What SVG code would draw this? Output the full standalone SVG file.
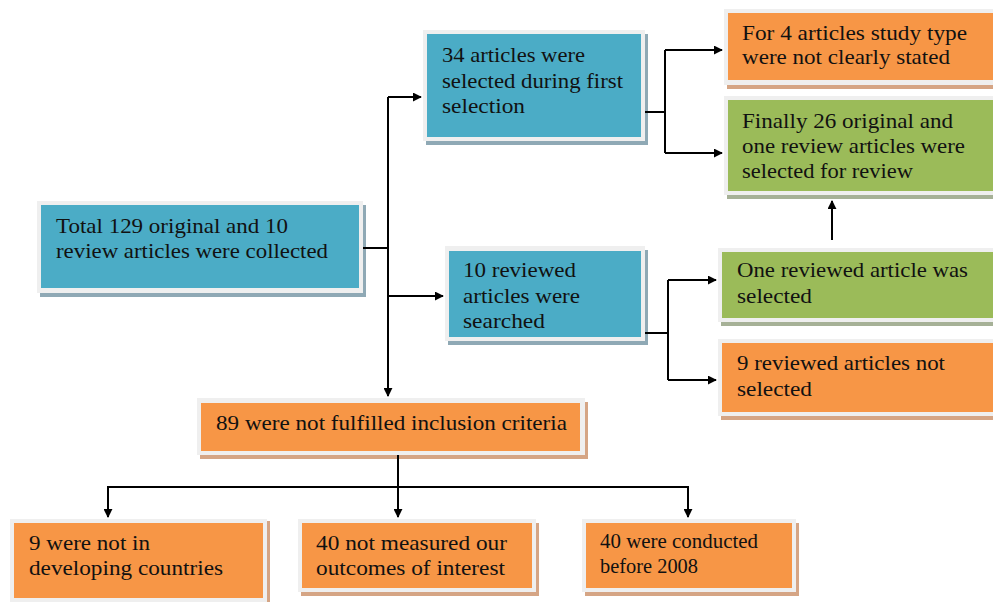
<svg xmlns="http://www.w3.org/2000/svg" width="993" height="602" viewBox="0 0 993 602">
<defs>
<marker id="ah" viewBox="0 0 10 10" refX="9" refY="5" markerWidth="4.5" markerHeight="4.5" orient="auto" markerUnits="strokeWidth">
<path d="M0,0 L10,5 L0,10 z" fill="#000"/>
</marker>
</defs>
<style>
.frame{fill:#efefef;}
.sh-b{fill:#8fa9b5;}
.sh-o{fill:#d5a585;}
.sh-g{fill:#a6b197;}
.teal{fill:#4bacc6;}
.orange{fill:#f79646;}
.green{fill:#9bbb59;}
text{font-family:"Liberation Serif","DejaVu Serif",serif;font-size:22px;fill:#111;}
.sm{font-size:20px;}
.con{fill:none;stroke:#000;stroke-width:2;}
</style>
<rect width="993" height="602" fill="#fff"/>

<g id="n1">
<rect class="sh-b" x="40" y="205" width="326" height="92"/>
<rect class="frame" x="37" y="201" width="326" height="92"/>
<rect class="teal" x="41" y="205" width="318" height="83"/>
<text x="56" y="233" textLength="232" lengthAdjust="spacingAndGlyphs">Total 129 original and 10</text>
<text x="56" y="258" textLength="272" lengthAdjust="spacingAndGlyphs">review articles were collected</text>
</g>

<g id="n2">
<rect class="sh-b" x="426" y="34" width="222" height="111"/>
<rect class="frame" x="423" y="30" width="222" height="111"/>
<rect class="teal" x="427" y="34" width="214" height="103"/>
<text x="442" y="62" textLength="143" lengthAdjust="spacingAndGlyphs">34 articles were</text>
<text x="442" y="88" textLength="181" lengthAdjust="spacingAndGlyphs">selected during first</text>
<text x="442" y="113" textLength="83" lengthAdjust="spacingAndGlyphs">selection</text>
</g>

<g id="n3">
<rect class="sh-o" x="727" y="13" width="275" height="76"/>
<rect class="frame" x="724" y="9" width="275" height="76"/>
<rect class="orange" x="728" y="13" width="270" height="67"/>
<text x="742" y="40" textLength="225" lengthAdjust="spacingAndGlyphs">For 4 articles study type</text>
<text x="742" y="64" textLength="208" lengthAdjust="spacingAndGlyphs">were not clearly stated</text>
</g>

<g id="n4">
<rect class="sh-g" x="727" y="100" width="275" height="99"/>
<rect class="frame" x="724" y="96" width="275" height="99"/>
<rect class="green" x="728" y="100" width="270" height="91"/>
<text x="742" y="128" textLength="211" lengthAdjust="spacingAndGlyphs">Finally 26 original and</text>
<text x="742" y="153" textLength="223" lengthAdjust="spacingAndGlyphs">one review articles were</text>
<text x="742" y="178" textLength="171" lengthAdjust="spacingAndGlyphs">selected for review</text>
</g>

<g id="n5">
<rect class="sh-b" x="448" y="250" width="200" height="95"/>
<rect class="frame" x="445" y="246" width="200" height="95"/>
<rect class="teal" x="449" y="251" width="192" height="86"/>
<text x="463" y="277" textLength="113" lengthAdjust="spacingAndGlyphs">10 reviewed</text>
<text x="463" y="303" textLength="117" lengthAdjust="spacingAndGlyphs">articles were</text>
<text x="463" y="328" textLength="82" lengthAdjust="spacingAndGlyphs">searched</text>
</g>

<g id="n6">
<rect class="sh-g" x="721" y="252" width="280" height="74"/>
<rect class="frame" x="718" y="248" width="280" height="74"/>
<rect class="green" x="722" y="252" width="275" height="66"/>
<text x="737" y="277" textLength="231" lengthAdjust="spacingAndGlyphs">One reviewed article was</text>
<text x="737" y="303" textLength="75" lengthAdjust="spacingAndGlyphs">selected</text>
</g>

<g id="n7">
<rect class="sh-o" x="721" y="343" width="280" height="77"/>
<rect class="frame" x="718" y="339" width="280" height="77"/>
<rect class="orange" x="722" y="343" width="275" height="69"/>
<text x="737" y="370" textLength="208" lengthAdjust="spacingAndGlyphs">9 reviewed articles not</text>
<text x="737" y="396" textLength="75" lengthAdjust="spacingAndGlyphs">selected</text>
</g>

<g id="n8">
<rect class="sh-o" x="200" y="402" width="388" height="57"/>
<rect class="frame" x="197" y="398" width="388" height="57"/>
<rect class="orange" x="201" y="403" width="379" height="48"/>
<text x="216" y="430" textLength="351" lengthAdjust="spacingAndGlyphs">89 were not fulfilled inclusion criteria</text>
</g>

<g id="n9">
<rect class="frame" x="10" y="519" width="257" height="85"/>
<rect x="267" y="521" width="3" height="81" fill="#d5a585"/>
<rect class="orange" x="14" y="523" width="249" height="75"/>
<text x="29" y="550" textLength="121" lengthAdjust="spacingAndGlyphs">9 were not in</text>
<text x="29" y="575" textLength="194" lengthAdjust="spacingAndGlyphs">developing countries</text>
</g>

<g id="n10">
<rect class="sh-o" x="301" y="523" width="238" height="73"/>
<rect class="frame" x="298" y="519" width="238" height="73"/>
<rect class="orange" x="302" y="523" width="230" height="65"/>
<text x="316" y="550" textLength="191" lengthAdjust="spacingAndGlyphs">40 not measured our</text>
<text x="316" y="575" textLength="189" lengthAdjust="spacingAndGlyphs">outcomes of interest</text>
</g>

<g id="n11">
<rect class="sh-o" x="585" y="523" width="214" height="73"/>
<rect class="frame" x="582" y="519" width="214" height="73"/>
<rect class="orange" x="586" y="523" width="206" height="65"/>
<text class="sm" x="600" y="548" textLength="158" lengthAdjust="spacingAndGlyphs">40 were conducted</text>
<text class="sm" x="600" y="573" textLength="98" lengthAdjust="spacingAndGlyphs">before 2008</text>
</g>

<g id="connectors">
<path class="con" d="M363,248 H388"/>
<path class="con" d="M388,97 V396" marker-end="url(#ah)"/>
<path class="con" d="M388,97 H421" marker-end="url(#ah)"/>
<path class="con" d="M388,296 H443" marker-end="url(#ah)"/>
<path class="con" d="M645,112 H665"/>
<path class="con" d="M665,50 V153"/>
<path class="con" d="M665,50 H722" marker-end="url(#ah)"/>
<path class="con" d="M665,153 H722" marker-end="url(#ah)"/>
<path class="con" d="M645,333 H668"/>
<path class="con" d="M668,280 V380"/>
<path class="con" d="M668,280 H716" marker-end="url(#ah)"/>
<path class="con" d="M668,380 H716" marker-end="url(#ah)"/>
<path class="con" d="M832,240 V201" marker-end="url(#ah)"/>
<path class="con" d="M398,455 V517" marker-end="url(#ah)"/>
<path class="con" d="M108,487 H688"/>
<path class="con" d="M108,486 V517" marker-end="url(#ah)"/>
<path class="con" d="M688,486 V517" marker-end="url(#ah)"/>
</g>
</svg>
